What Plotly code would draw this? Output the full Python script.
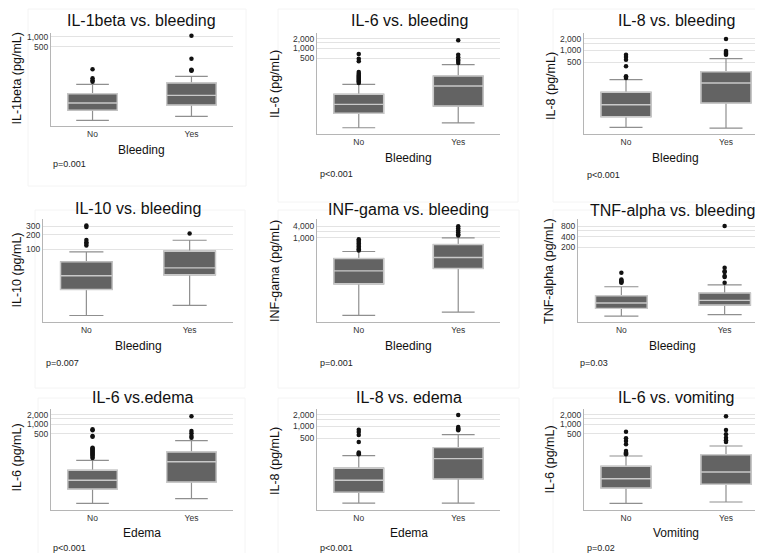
import plotly.graph_objects as go

W, H = 763, 553

# ---------------- data ----------------
categories = ["No", "Yes"]
titles = ["IL-1beta vs. bleeding", "IL-6 vs. bleeding", "IL-8 vs. bleeding",
          "IL-10 vs. bleeding", "INF-gama vs. bleeding", "TNF-alpha vs. bleeding",
          "IL-6 vs.edema", "IL-8 vs. edema", "IL-6 vs. vomiting"]
y_titles = ["IL-1beta (pg/mL)", "IL-6 (pg/mL)", "IL-8 (pg/mL)",
            "IL-10 (pg/mL)", "INF-gama (pg/mL)", "TNF-alpha (pg/mL)",
            "IL-6 (pg/mL)", "IL-8 (pg/mL)", "IL-6 (pg/mL)"]
x_titles = ["Bleeding", "Bleeding", "Bleeding",
            "Bleeding", "Bleeding", "Bleeding",
            "Edema", "Edema", "Vomiting"]
p_values = ["p=0.001", "p<0.001", "p<0.001",
            "p=0.007", "p=0.001", "p=0.03",
            "p<0.001", "p<0.001", "p=0.02"]

# box statistics [No, Yes]
q1 = [[6.3, 9.0], [8.9, 15.1], [20.5, 45.8],
      [15.1, 30.2], [3.4, 22.4], [3.5, 4.36],
      [8.9, 14.8], [21, 45.8], [9.6, 12.5]]
median = [[10.3, 17.5], [17.1, 65], [41.4, 148],
          [28.8, 42], [16.7, 86], [4.98, 5.94],
          [16.8, 65], [42.4, 151], [18.8, 30.7]]
q3 = [[19.6, 41], [35.5, 134.6], [85.9, 288],
      [55.7, 92.3], [76.4, 424], [8.05, 9.6],
      [34.7, 132], [86, 288], [46.5, 108]]
lower_whisker = [[3.1, 4.1], [3.1, 4.4], [11, 10.5],
                 [4.4, 7.1], [0.071, 0.106], [2.1, 2.3],
                 [3.1, 4.4], [11, 11], [3.1, 3.45]]
upper_whisker = [[37.6, 65.5], [73.6, 307], [180, 618],
                 [89.3, 155], [180, 952], [14.6, 16.6],
                 [72, 300], [180, 618], [98.5, 204]]
outliers_no = [[45, 50, 57, 106],
               [81, 88, 93.5, 100, 108, 116, 125, 135, 145, 160, 180, 393, 475, 670],
               [199, 210, 220, 395, 582, 682, 782],
               [121, 131, 141, 157, 290, 310],
               [205, 240, 280, 330, 400, 480, 570, 680, 800],
               [19, 20, 20.8, 22, 23.8, 36.7],
               [85, 92, 102, 110, 118, 128, 137, 148, 158, 170, 180, 400, 423, 640, 689],
               [196, 205, 215, 403, 607, 724, 828],
               [111, 120, 127, 142, 231, 294, 357, 578]]
outliers_yes = [[96, 100, 104, 222, 1095],
                [348, 400, 442, 526, 636, 1815],
                [782, 820, 863, 920, 970, 1963],
                [213],
                [1277, 1500, 1910, 2445, 3125, 3990],
                [19, 28, 30, 39, 41, 51, 817],
                [373, 423, 515, 609, 1778],
                [800, 850, 899, 970, 1964],
                [273, 309, 373, 478, 655, 1778]]
y_tickvals = [[500, 1000], [500, 1000, 1500, 2000], [500, 1000, 1500, 2000],
              [100, 200, 300], [1000, 2000, 4000], [200, 400, 600, 800],
              [500, 1000, 1500, 2000], [500, 1000, 1500, 2000], [500, 1000, 1500, 2000]]
y_ticktext = [["500", "1,000"], ["500", "1,000", "", "2,000"], ["500", "1,000", "", "2,000"],
              ["100", "200", "300"], ["1,000", "", "4,000"], ["200", "400", "", "800"],
              ["500", "1,000", "", "2,000"], ["500", "1,000", "", "2,000"], ["500", "1,000", "", "2,000"]]
y_log_range = [[0.32, 3.12], [0.294, 3.49], [0.87, 3.446],
               [0.51, 2.627], [-1.505, 3.989], [0.152, 3.112],
               [0.284, 3.481], [0.867, 3.446], [0.284, 3.481]]

# ---------------- layout geometry (pixels) ----------------
plot_rect = [(43, 225, 25, 118), (309, 492, 25, 126), (576, 760, 25, 126),
             (35, 225, 211, 314), (309, 492, 211, 314), (570, 760, 211, 314),
             (43, 225, 401, 502), (309, 492, 401, 502), (576, 760, 401, 502)]
title_pos = [(133, 12), (401, 13), (668, 13),
             (130, 200.5), (400.5, 201), (664, 202),
             (134, 389.5), (400.5, 389.5), (668, 389.5)]
ytitle_pos = [(8.5, 71), (267, 76), (543, 78),
              (8.5, 262), (267, 263), (541, 263),
              (8.5, 450), (267, 453), (541.5, 452)]
xtitle_pos = [(133, 142), (400.5, 150), (667.5, 150),
              (130, 338), (400, 338.3), (664, 338.3),
              (134, 525), (401, 525), (668, 525)]
p_pos = [(44, 156), (311, 166), (578, 166.5),
         (36.5, 354.5), (311, 354.5), (571, 354.5),
         (44, 540), (311, 540), (578, 540)]
panel_rect = [(20, 238, 1, 178), (270, 510, 1, 194), (545, 762, 1, 194),
              (27, 237, 202, 380), (270, 511, 202, 380), (545, 762, 202, 380),
              (30, 237, 390, 552), (270, 511, 390, 552), (545, 762, 390, 552)]

FONT = "Liberation Sans, Arial, sans-serif"
BOX_FILL = "#636363"
WHISKER = "#8f8f8f"
MEDIAN = "#c9c9c9"

def px(x):
    return x / W

def py(y):
    return 1 - y / H

fig = go.Figure()
annotations = []
shapes = []

for i in range(9):
    n = "" if i == 0 else str(i + 1)
    xa, ya = "x" + n, "y" + n
    x0, x1, y0, y1 = plot_rect[i]

    # whiskers + box (mid gray)
    fig.add_trace(go.Box(
        x=categories, q1=q1[i], median=median[i], q3=q3[i],
        lowerfence=lower_whisker[i], upperfence=upper_whisker[i],
        boxpoints=False, fillcolor=BOX_FILL, line=dict(color=WHISKER, width=1.2),
        width=0.5, whiskerwidth=0.66, xaxis=xa, yaxis=ya, showlegend=False,
        hoverinfo="skip"))
    # box outline + median (light gray)
    fig.add_trace(go.Box(
        x=categories, q1=q1[i], median=median[i], q3=q3[i],
        lowerfence=q1[i], upperfence=q3[i],
        boxpoints=False, fillcolor=BOX_FILL, line=dict(color=MEDIAN, width=1.4),
        width=0.5, whiskerwidth=0, xaxis=xa, yaxis=ya, showlegend=False,
        hoverinfo="skip"))
    # outliers
    ox = [categories[0]] * len(outliers_no[i]) + [categories[1]] * len(outliers_yes[i])
    oy = outliers_no[i] + outliers_yes[i]
    fig.add_trace(go.Scatter(
        x=ox, y=oy, mode="markers", marker=dict(color="#111111", size=4.5),
        xaxis=xa, yaxis=ya, showlegend=False, hoverinfo="skip"))

    fig.update_layout(**{
        "xaxis" + n: dict(
            domain=[px(x0), px(x1)], anchor=ya, type="category",
            categoryorder="array", categoryarray=categories,
            range=[-0.42, 1.42], showgrid=False, zeroline=False,
            showline=True, linecolor="#b5b5b5", linewidth=1, ticks="",
            tickfont=dict(family=FONT, size=8.5, color="#333333")),
        "yaxis" + n: dict(
            domain=[py(y1), py(y0)], anchor=xa, type="log",
            range=y_log_range[i], tickvals=y_tickvals[i], ticktext=y_ticktext[i],
            showgrid=True, gridcolor="#e3e3e3", gridwidth=1, zeroline=False,
            showline=True, linecolor="#b5b5b5", linewidth=1, ticks="",
            tickfont=dict(family=FONT, size=8.5, color="#333333")),
    })

    shapes.append(dict(type="rect", xref="paper", yref="paper",
                       x0=px(panel_rect[i][0]), x1=px(panel_rect[i][1]),
                       y0=py(panel_rect[i][3]), y1=py(panel_rect[i][2]),
                       line=dict(color="#f4f4f4", width=1), layer="below"))

    annotations.append(dict(text=titles[i], x=px(title_pos[i][0]), y=py(title_pos[i][1]),
                            xref="paper", yref="paper", showarrow=False,
                            xanchor="center", yanchor="middle",
                            font=dict(family=FONT, size=16, color="#111111")))
    annotations.append(dict(text=y_titles[i], x=px(ytitle_pos[i][0]), y=py(ytitle_pos[i][1]),
                            xref="paper", yref="paper", showarrow=False, textangle=-90,
                            xanchor="center", yanchor="middle",
                            font=dict(family=FONT, size=12.5, color="#111111")))
    annotations.append(dict(text=x_titles[i], x=px(xtitle_pos[i][0]), y=py(xtitle_pos[i][1]),
                            xref="paper", yref="paper", showarrow=False,
                            xanchor="center", yanchor="middle",
                            font=dict(family=FONT, size=12, color="#111111")))
    annotations.append(dict(text=p_values[i], x=px(p_pos[i][0]), y=py(p_pos[i][1]),
                            xref="paper", yref="paper", showarrow=False,
                            xanchor="left", yanchor="middle", borderpad=0,
                            font=dict(family=FONT, size=9, color="#222222")))

fig.update_layout(
    width=W, height=H, autosize=False,
    margin=dict(l=0, r=0, t=0, b=0),
    paper_bgcolor="white", plot_bgcolor="white",
    boxmode="overlay", showlegend=False,
    annotations=annotations, shapes=shapes,
)

fig.write_html("out.html")
